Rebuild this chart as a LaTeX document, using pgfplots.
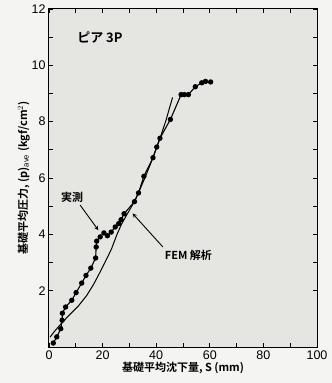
\documentclass[border=0pt]{standalone}
\usepackage{pgfplots}
\pgfplotsset{compat=1.18}
\usepackage{fontspec}
\setmainfont{Liberation Sans}
\newfontfamily\jp{Noto Sans CJK JP}[BoldFont={Noto Sans CJK JP Bold}]
\definecolor{plotbg}{RGB}{229,229,226}
\definecolor{pagebg}{RGB}{244,244,242}
\begin{document}
\begin{tikzpicture}
\fill[pagebg] (-49pt,-36pt) rectangle (283pt,347pt);
\begin{axis}[
  scale only axis, width=268pt, height=338pt,
  xmin=0, xmax=100, ymin=0, ymax=12,
  xtick={0,20,...,100}, ytick={2,4,...,12},
  minor x tick num=1, minor y tick num=1,
  major tick length=4.5pt, minor tick length=4.5pt,
  tick align=inside, tick style={black, line width=0.9pt},
  axis line style={line width=1pt},
  axis background/.style={fill=plotbg},
  /pgf/number format/assume math mode=true,
  ticklabel style={font=\fontsize{12.5}{14}\selectfont},
  xlabel={\jp\bfseries\fontsize{11}{13}\selectfont 基礎平均沈下量, S (mm)},
  ylabel={\jp\bfseries\fontsize{11}{13}\selectfont 基礎平均圧力, (p)$_{\mathrm{ave}}$ (kgf/cm$^2$)},
  xlabel style={yshift=4pt},
  ylabel style={yshift=-5pt},
  clip=false,
]
\addplot[black, line width=1.1pt, mark=*, mark size=2.1pt] coordinates {
(1.6,0.14) (2.9,0.36) (4.4,0.65) (4.9,0.95) (5.0,1.2) (6.2,1.42) (8.5,1.66)
(10.1,1.93) (12.2,2.27) (13.8,2.54) (15.6,2.80) (17.4,3.16) (17.6,3.55)
(17.8,3.76) (19.1,3.91) (20.5,4.05) (21.8,3.95) (23.2,4.08) (24.7,4.26)
(26.0,4.38) (26.9,4.52) (28.0,4.73) (31.9,5.16) (33.4,5.47) (35.4,6.06)
(38.8,6.72) (40.2,7.1) (41.4,7.41) (45.3,8.08) (49.3,8.96) (50.5,8.96)
(52.0,8.96) (54.6,9.24) (57.0,9.38) (58.4,9.43) (60.3,9.41)
};
\addplot[black, line width=1pt] coordinates {
(0.4,0.35) (2.0,0.55) (4.1,0.78) (7.0,1.08) (10.9,1.45) (14.0,1.82)
(16.5,2.2) (19.0,2.65) (21.5,3.12) (23.4,3.5) (25.3,3.98) (27.0,4.35)
(29.0,4.69) (31.5,5.1) (33.5,5.5) (36.0,6.05) (38.5,6.65) (41.0,7.3)
(43.5,8.0) (46.1,8.86)
};
\node[font=\jp\bfseries\fontsize{13}{15}\selectfont] at (axis cs:19,11.0) {ピア 3P};
\node[font=\jp\bfseries\fontsize{11}{13}\selectfont] at (axis cs:8.6,5.3) {実測};
\draw[-stealth, line width=0.9pt] (axis cs:11.6,5.04) -- (axis cs:18.4,4.15);
\node[font=\jp\bfseries\fontsize{11}{13}\selectfont] at (axis cs:52,3.27) {FEM 解析};
\draw[-stealth, line width=0.9pt] (axis cs:42.5,3.55) -- (axis cs:31.2,4.74);
\end{axis}
\pgfresetboundingbox
\path[use as bounding box] (-49pt,-36pt) rectangle (283pt,347pt);
\end{tikzpicture}
\end{document}
